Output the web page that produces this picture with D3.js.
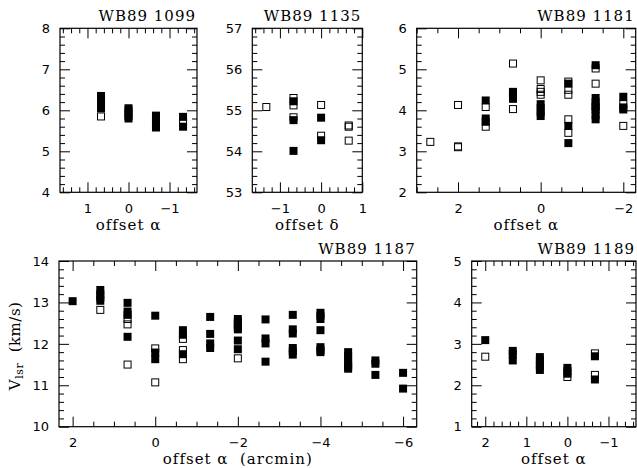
<!DOCTYPE html>
<html><head><meta charset="utf-8">
<script src="https://cdn.jsdelivr.net/npm/d3@7"></script>
<style>body{margin:0;background:#fff}svg{display:block}</style>
</head><body>
<script>
// ---- data ----
const p1099Filled = [[0.67,6.05],[0.67,6.15],[0.67,6.25],[0.67,6.35],[0,5.8],[0,5.85],[0,5.92],[0,6.0],[0,6.05],
  [-0.67,5.58],[-0.67,5.65],[-0.67,5.72],[-0.67,5.8],[-0.67,5.87],[-1.33,5.6],[-1.33,5.84]];
const p1099Open = [[0.67,5.85],[0.67,6.1],[-1.33,5.72]];

const p1135Filled = [[-0.67,55.22],[-0.67,54.76],[-0.67,54.01],[0,54.82],[0,54.27]];
const p1135Open = [[-1.33,55.08],[-0.67,55.3],[-0.67,55.12],[-0.67,54.83],[0,55.13],[0,54.38],[0.67,54.63],[0.67,54.6],[0.67,54.26]];

const p1181Filled = [[1.33,4.24],[1.33,3.8],[1.33,3.72],[0.67,4.45],[0.67,4.38],[0.67,4.28],[0,4.15],[0,4.05],[0,3.95],[0,3.86],
  [-0.67,4.65],[-0.67,3.62],[-0.67,3.2],[-1.33,5.1],[-1.33,4.3],[-1.33,4.2],[-1.33,4.1],[-1.33,4.0],[-1.33,3.88],[-1.33,3.78],
  [-2,4.33],[-2,4.07],[-2,4.02]];
const p1181Open = [[2.67,3.23],[2,4.13],[2,3.12],[2,3.1],[1.33,4.08],[1.33,3.6],[0.67,5.14],[0.67,4.42],[0.67,4.03],
  [0,4.73],[0,4.52],[0,4.45],[0,4.38],[-0.67,4.7],[-0.67,4.5],[-0.67,4.38],[-0.67,3.78],[-0.67,3.45],
  [-1.33,5.02],[-1.33,4.65],[-1.33,4.08],[-2,4.15],[-2,3.62]];

const p1187Filled = [[2,13.03],[1.33,13.3],[1.33,13.2],[1.33,13.12],[1.33,13.04],
  [0.67,12.99],[0.67,12.78],[0.67,12.7],[0.67,12.17],[0,12.68],[0,11.79],[0,11.63],
  [-0.67,12.33],[-0.67,12.22],[-0.67,11.75],[-1.33,12.65],[-1.33,12.24],[-1.33,12.01],[-1.33,11.9],
  [-2,12.6],[-2,12.52],[-2,12.4],[-2,12.35],[-2,12.08],[-2,11.87],
  [-2.67,12.59],[-2.67,12.13],[-2.67,12.01],[-2.67,11.57],
  [-3.33,12.7],[-3.33,12.35],[-3.33,12.25],[-3.33,11.9],[-3.33,11.82],[-3.33,11.74],
  [-4,12.75],[-4,12.68],[-4,12.6],[-4,12.33],[-4,11.92],[-4,11.85],[-4,11.8],
  [-4.67,11.8],[-4.67,11.7],[-4.67,11.6],[-4.67,11.5],[-4.67,11.4],
  [-5.33,11.6],[-5.33,11.52],[-5.33,11.25],[-6,11.3],[-6,10.92]];
const p1187Open = [[1.33,12.82],[0.67,12.6],[0.67,12.47],[0.67,11.5],[0,11.89],[0,11.07],
  [-0.67,12.12],[-0.67,11.85],[-0.67,11.63],[-2,12.47],[-2,11.65],[-4.67,11.45]];

const p1189Filled = [[2,3.09],[1.33,2.83],[1.33,2.75],[1.33,2.6],[0.67,2.68],[0.67,2.6],[0.67,2.5],[0.67,2.37],
  [0,2.42],[0,2.35],[0,2.28],[-0.67,2.7],[-0.67,2.14]];
const p1189Open = [[2,2.69],[0.67,2.45],[0,2.2],[-0.67,2.77],[-0.67,2.25]];

const titles = ["WB89 1099","WB89 1135","WB89 1181","WB89 1187","WB89 1189"];
const xLabels = ["offset α","offset δ","offset α","offset α  (arcmin)","offset α"];

// ---- layout ----
const W = 637, H = 468;
const svg = d3.select("body").append("svg").attr("width", W).attr("height", H);

const panels = [
  {title:titles[0], xl:xLabels[0], filled:p1099Filled, open:p1099Open, xd:[1.67,-1.67], yd:[4,8], l:60, r:197, t:28.3, b:192.3, xs:1, xm:0.2},
  {title:titles[1], xl:xLabels[1], filled:p1135Filled, open:p1135Open, xd:[-1.67,1], yd:[53,57], l:252.3, r:362.3, t:28.3, b:192.3, xs:1, xm:0.2},
  {title:titles[2], xl:xLabels[2], filled:p1181Filled, open:p1181Open, xd:[3,-2.3], yd:[2,6], l:416.7, r:635.7, t:28.3, b:192.3, xs:2, xm:0.5},
  {title:titles[3], xl:xLabels[3], filled:p1187Filled, open:p1187Open, xd:[2.33,-6.33], yd:[10,14], l:59, r:416.7, t:261, b:426.7, xs:2, xm:0.5, ylab:true},
  {title:titles[4], xl:xLabels[4], filled:p1189Filled, open:p1189Open, xd:[2.33,-1.67], yd:[1,5], l:471.7, r:636, t:261, b:426.7, xs:1, xm:0.2}
];

function tickVals(domain, step) {
  const [a, b] = d3.extent(domain);
  const start = Math.ceil(a / step - 1e-6);
  const end = Math.floor(b / step + 1e-6);
  return d3.range(start, end + 1).map(i => +(i * step).toFixed(6));
}
function minorVals(domain, step, major) {
  return tickVals(domain, step).filter(v => Math.abs(v / major - Math.round(v / major)) > 1e-6);
}
const fmt = d3.format("d");

function styleAxis(g) {
  g.select(".domain").remove();
  g.selectAll("line").attr("stroke", "#000").attr("stroke-width", 1);
  g.selectAll("text").attr("fill", "#000").style("font-family", "DejaVu Sans").style("font-size", "13px");
}

panels.forEach(p => {
  const x = d3.scaleLinear().domain(p.xd).range([p.l, p.r]);
  const y = d3.scaleLinear().domain(p.yd).range([p.b, p.t]);
  const g = svg.append("g");
  const xMaj = tickVals(p.xd, p.xs), xMin = minorVals(p.xd, p.xm, p.xs);
  const yMaj = tickVals(p.yd, 1), yMin = minorVals(p.yd, 0.2, 1);

  // bottom
  g.append("g").attr("transform", `translate(0,${p.b})`)
    .call(d3.axisBottom(x).tickValues(xMaj).tickSizeInner(-10).tickSizeOuter(0).tickPadding(11).tickFormat(fmt)).call(styleAxis);
  g.append("g").attr("transform", `translate(0,${p.b})`)
    .call(d3.axisBottom(x).tickValues(xMin).tickSizeInner(-5).tickSizeOuter(0).tickFormat("")).call(styleAxis);
  // top
  g.append("g").attr("transform", `translate(0,${p.t})`)
    .call(d3.axisTop(x).tickValues(xMaj).tickSizeInner(-10).tickSizeOuter(0).tickFormat("")).call(styleAxis);
  g.append("g").attr("transform", `translate(0,${p.t})`)
    .call(d3.axisTop(x).tickValues(xMin).tickSizeInner(-5).tickSizeOuter(0).tickFormat("")).call(styleAxis);
  // left
  g.append("g").attr("transform", `translate(${p.l},0)`)
    .call(d3.axisLeft(y).tickValues(yMaj).tickSizeInner(-10).tickSizeOuter(0).tickPadding(10).tickFormat(fmt)).call(styleAxis);
  g.append("g").attr("transform", `translate(${p.l},0)`)
    .call(d3.axisLeft(y).tickValues(yMin).tickSizeInner(-5).tickSizeOuter(0).tickFormat("")).call(styleAxis);
  // right
  g.append("g").attr("transform", `translate(${p.r},0)`)
    .call(d3.axisRight(y).tickValues(yMaj).tickSizeInner(-10).tickSizeOuter(0).tickFormat("")).call(styleAxis);
  g.append("g").attr("transform", `translate(${p.r},0)`)
    .call(d3.axisRight(y).tickValues(yMin).tickSizeInner(-5).tickSizeOuter(0).tickFormat("")).call(styleAxis);

  // frame
  g.append("rect").attr("x", p.l).attr("y", p.t).attr("width", p.r - p.l).attr("height", p.b - p.t)
    .attr("fill", "none").attr("stroke", "#000").attr("stroke-width", 1.2);

  // markers
  const s = 8;
  g.selectAll("rect.f").data(p.filled).join("rect").attr("class", "f")
    .attr("x", d => x(d[0]) - s / 2).attr("y", d => y(d[1]) - s / 2)
    .attr("width", s).attr("height", s).attr("fill", "#000");
  g.selectAll("rect.o").data(p.open).join("rect").attr("class", "o")
    .attr("x", d => x(d[0]) - s / 2 + 0.5).attr("y", d => y(d[1]) - s / 2 + 0.5)
    .attr("width", s - 1).attr("height", s - 1).attr("fill", "none").attr("stroke", "#000").attr("stroke-width", 1);

  // title
  g.append("text").attr("x", p.r - 1).attr("y", p.t - 7.5).attr("text-anchor", "end")
    .style("font-family", "DejaVu Serif").style("font-size", "15px").style("letter-spacing", "1px")
    .text(p.title);
  // x label
  g.append("text").attr("x", (p.l + p.r) / 2).attr("y", p.b + 37.5).attr("text-anchor", "middle")
    .attr("xml:space", "preserve")
    .style("font-family", "DejaVu Serif").style("font-size", "15px").style("letter-spacing", "1px").style("white-space", "pre")
    .text(p.xl);
  if (p.ylab) {
    const t = g.append("text").attr("transform", `translate(20,${(p.t + p.b) / 2 + 2}) rotate(-90)`)
      .attr("text-anchor", "middle").style("font-family", "DejaVu Serif").style("font-size", "15px")
      .style("letter-spacing", "0.5px").style("white-space", "pre");
    t.append("tspan").text("V");
    t.append("tspan").attr("dy", 3).style("font-size", "11px").text("lsr");
    t.append("tspan").attr("dy", -3).text("  (km/s)");
  }
});
</script>
</body></html>
